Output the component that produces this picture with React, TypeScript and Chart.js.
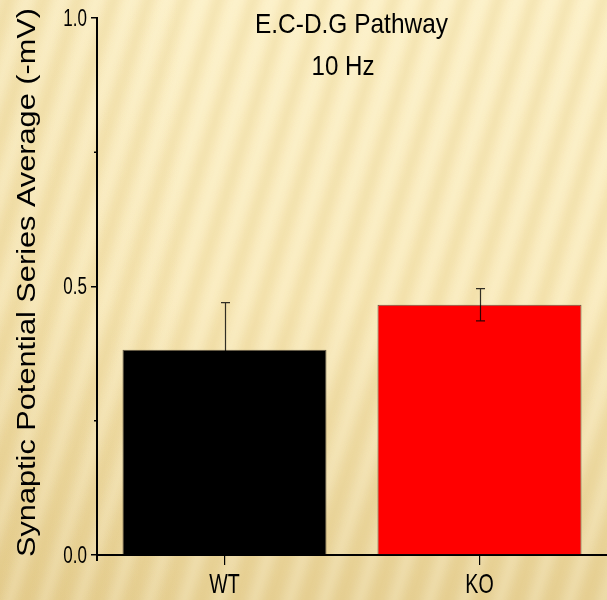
import React, { useEffect, useRef } from 'react';
import { Chart, registerables } from 'chart.js';

Chart.register(...registerables);

const categories = ['WT', 'KO'];
const means = [0.382, 0.466];
const errors = [0.088, 0.03];
const barColors = ['#000000', '#ff0000'];
const yMin = 0;
const yMax = 1.0;
const yStep = 0.5;
const yMinorTicks = [0.25, 0.75];
const titleLines = ['E.C-D.G Pathway', '10 Hz'];
const yTitle = 'Synaptic Potential Series Average (-mV)';

const SANS = '"Liberation Sans", Arial, sans-serif';

function drawScaledText(
  ctx: CanvasRenderingContext2D,
  text: string,
  x: number,
  y: number,
  size: number,
  sx: number,
  align: CanvasTextAlign = 'center',
  rotate = 0
) {
  ctx.save();
  ctx.font = `${size}px ${SANS}`;
  ctx.translate(x, y);
  if (rotate) ctx.rotate(rotate);
  ctx.scale(sx, 1);
  ctx.textAlign = align;
  ctx.textBaseline = 'alphabetic';
  ctx.fillStyle = '#000';
  ctx.fillText(text, 0, 0);
  ctx.restore();
}

function drawFitted(
  ctx: CanvasRenderingContext2D,
  text: string,
  x: number,
  y: number,
  size: number,
  targetWidth: number,
  rotate = 0
) {
  ctx.save();
  ctx.font = `${size}px ${SANS}`;
  const w = ctx.measureText(text).width;
  ctx.restore();
  drawScaledText(ctx, text, x, y, size, targetWidth / w, 'center', rotate);
}

const backgroundPlugin = {
  id: 'bgTexture',
  beforeDraw(chart: any) {
    const { ctx, width, height } = chart;
    ctx.save();
    const g = ctx.createLinearGradient(0, 0, 0, height);
    g.addColorStop(0, '#fcf0c6');
    g.addColorStop(0.5, '#f9eabb');
    g.addColorStop(1, '#e9d49b');
    ctx.fillStyle = g;
    ctx.fillRect(0, 0, width, height);
    const g2 = ctx.createLinearGradient(0, 0, width, 0);
    g2.addColorStop(0, 'rgba(200,160,70,0.10)');
    g2.addColorStop(0.3, 'rgba(200,160,70,0)');
    ctx.fillStyle = g2;
    ctx.fillRect(0, 0, width, height);
    ctx.filter = 'blur(5px)';
    ctx.strokeStyle = 'rgba(215,178,95,0.24)';
    ctx.lineWidth = 9;
    for (let x = -400; x < width + 200; x += 35) {
      ctx.beginPath();
      ctx.moveTo(x, height + 20);
      ctx.lineTo(x + 0.32 * (height + 40), -20);
      ctx.stroke();
    }
    ctx.strokeStyle = 'rgba(255,250,225,0.35)';
    ctx.lineWidth = 6;
    for (let x = -382; x < width + 200; x += 35) {
      ctx.beginPath();
      ctx.moveTo(x, height + 20);
      ctx.lineTo(x + 0.32 * (height + 40), -20);
      ctx.stroke();
    }
    ctx.restore();
  },
};

const errorBarPlugin = {
  id: 'errorBars',
  afterDatasetsDraw(chart: any) {
    const { ctx } = chart;
    const yScale = chart.scales.y;
    const meta = chart.getDatasetMeta(0);
    ctx.save();
    ctx.strokeStyle = 'rgba(0,0,0,0.8)';
    ctx.lineWidth = 1.2;
    meta.data.forEach((bar: any, i: number) => {
      const x = Math.round(bar.x) + 0.5;
      const yTop = yScale.getPixelForValue(means[i] + errors[i]);
      const yBot = yScale.getPixelForValue(means[i] - errors[i]);
      const cap = 4.5;
      ctx.beginPath();
      ctx.moveTo(x, yTop);
      ctx.lineTo(x, yBot);
      ctx.moveTo(x - cap, yTop);
      ctx.lineTo(x + cap, yTop);
      ctx.moveTo(x - cap, yBot);
      ctx.lineTo(x + cap, yBot);
      ctx.stroke();
    });
    ctx.restore();
  },
};

const decorPlugin = {
  id: 'decor',
  afterDraw(chart: any) {
    const { ctx, chartArea } = chart;
    const yScale = chart.scales.y;
    const xScale = chart.scales.x;
    ctx.save();
    ctx.strokeStyle = '#000';
    ctx.lineWidth = 1.5;
    yMinorTicks.forEach((v) => {
      const y = yScale.getPixelForValue(v);
      ctx.beginPath();
      ctx.moveTo(chartArea.left - 3, y);
      ctx.lineTo(chartArea.left, y);
      ctx.stroke();
    });
    // y axis line extends slightly below the x axis, as in the original
    ctx.lineWidth = 2;
    ctx.beginPath();
    ctx.moveTo(chartArea.left, chartArea.bottom);
    ctx.lineTo(chartArea.left, chartArea.bottom + 6);
    ctx.stroke();
    ctx.restore();
    // y tick labels (condensed, as in the original)
    yScale.ticks.forEach((t: any) => {
      const y = yScale.getPixelForValue(t.value);
      drawScaledText(ctx, Number(t.value).toFixed(1), chartArea.left - 10, y + 7.5, 23, 0.74, 'right');
    });
    // x tick labels
    categories.forEach((c, i) => {
      const x = xScale.getPixelForTick(i);
      drawScaledText(ctx, c, x, chartArea.bottom + 38, 28, 0.7, 'center');
    });
    // title lines
    drawFitted(ctx, titleLines[0], 351.5, 33, 28, 193);
    drawFitted(ctx, titleLines[1], 343, 75, 28, 63);
    // y axis title
    drawFitted(ctx, yTitle, 35, 282.5, 25, 549, -Math.PI / 2);
  },
};

export default function App() {
  const canvasRef = useRef<HTMLCanvasElement | null>(null);

  useEffect(() => {
    document.body.style.margin = '0';
    const canvas = canvasRef.current;
    if (!canvas) return;
    const chart = new Chart(canvas, {
      type: 'bar',
      data: {
        labels: categories,
        datasets: [
          {
            data: means,
            backgroundColor: barColors,
            borderColor: 'rgba(40,30,20,0.7)',
            borderWidth: 1,
            barPercentage: 0.8,
            categoryPercentage: 1.0,
          },
        ],
      },
      options: {
        animation: false,
        responsive: true,
        maintainAspectRatio: false,
        layout: { padding: { top: 18, right: 0, left: 0, bottom: 0 } },
        plugins: {
          legend: { display: false },
          title: { display: false },
          tooltip: { enabled: false },
        },
        scales: {
          x: {
            afterFit: (scale: any) => {
              scale.height = 45;
            },
            grid: {
              display: true,
              drawOnChartArea: false,
              drawTicks: true,
              offset: false,
              tickLength: 10,
              color: '#000',
              lineWidth: 1.2,
            },
            border: { display: true, color: '#000', width: 2 },
            ticks: { display: false },
          },
          y: {
            min: yMin,
            max: yMax,
            afterFit: (scale: any) => {
              scale.width = 97;
            },
            grid: {
              display: true,
              drawOnChartArea: false,
              drawTicks: true,
              tickLength: 6,
              color: '#000',
              lineWidth: 1.5,
            },
            border: { display: true, color: '#000', width: 2 },
            ticks: { display: false, stepSize: yStep },
          },
        },
      },
      plugins: [backgroundPlugin, errorBarPlugin, decorPlugin],
    });
    return () => chart.destroy();
  }, []);

  return (
    <div style={{ width: 607, height: 600, position: 'relative' }}>
      <canvas ref={canvasRef} />
    </div>
  );
}
